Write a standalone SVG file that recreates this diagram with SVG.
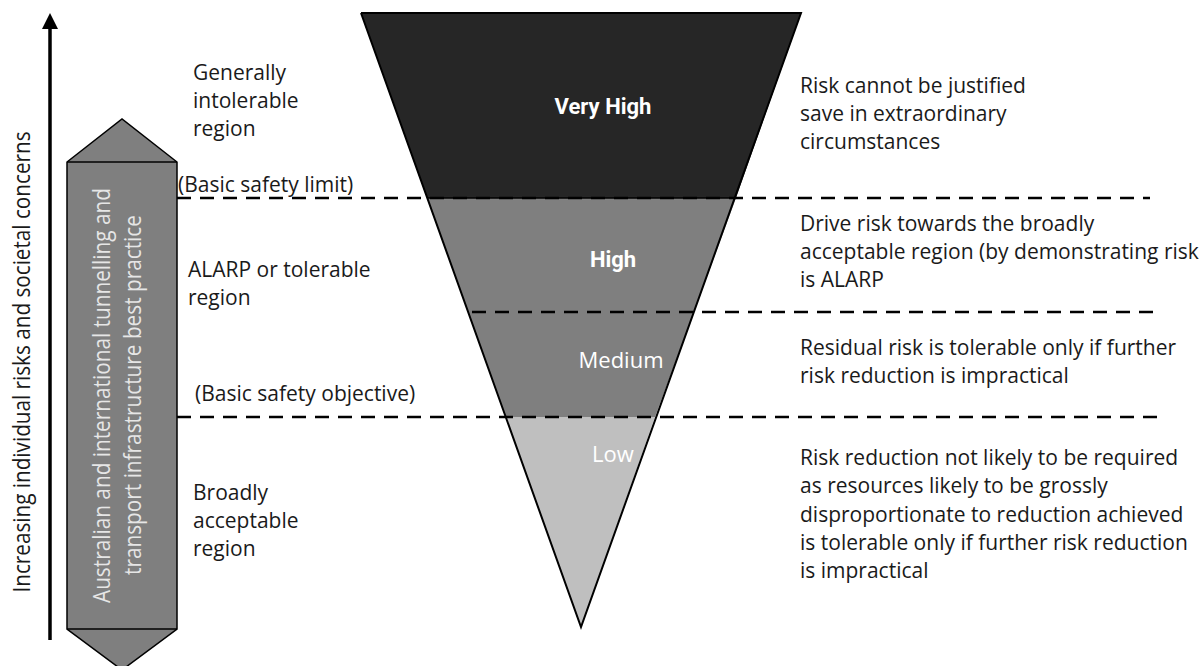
<svg xmlns="http://www.w3.org/2000/svg" width="1200" height="666" viewBox="0 0 1200 666">
<style>
.t{font-family:"Open Sans","Liberation Sans",sans-serif;font-size:21px;fill:#1a1a1a}
.w{font-family:Roboto,"Liberation Sans",sans-serif;font-size:22px;fill:#ffffff;text-anchor:middle;font-weight:bold}
.r{font-family:"Open Sans","Liberation Sans",sans-serif;font-size:22px;fill:#ffffff;text-anchor:middle}
.v{font-family:"Open Sans","Liberation Sans",sans-serif;font-size:24px;text-anchor:middle}
.dash{stroke:#000;stroke-width:2.5;stroke-dasharray:14 9;fill:none}
.edge{stroke:#000;stroke-width:2;fill:none}
</style>
<rect width="1200" height="666" fill="#fff"/>
<g id="axis">
<line x1="50" y1="640" x2="50" y2="27" stroke="#000" stroke-width="3.5"/>
<polygon points="50,13 42,29 58,29" fill="#000"/>
<text class="v" transform="translate(30,362) rotate(-90)" textLength="461" lengthAdjust="spacingAndGlyphs" fill="#1a1a1a">Increasing individual risks and societal concerns</text>
</g>
<g id="practice">
<polygon points="67,162 122,119 177,162 177,629 122,670 67,629" fill="#7f7f7f" stroke="#000" stroke-width="1.5"/>
<line x1="67" y1="162" x2="177" y2="162" stroke="#000" stroke-width="1.5"/>
<line x1="67" y1="629" x2="177" y2="629" stroke="#000" stroke-width="1.5"/>
<text class="v" transform="translate(110,395.5) rotate(-90)" textLength="415" lengthAdjust="spacingAndGlyphs" fill="#e6e6e6">Australian and international tunnelling and</text>
<text class="v" transform="translate(141,395) rotate(-90)" textLength="360" lengthAdjust="spacingAndGlyphs" fill="#e6e6e6">transport infrastructure best practice</text>
</g>
<g id="funnel">
<polygon id="veryhigh" points="361,13 801,13 736,198 427,198" fill="#262626"/>
<polygon id="high" points="427,198 736,198 694,312 468,312" fill="#7f7f7f"/>
<polygon id="medium" points="468,312 694,312 655,417 506,417" fill="#7f7f7f"/>
<polygon id="low" points="506,417 655,417 581,627" fill="#bfbfbf"/>
<polyline class="edge" points="361,13 801,13 581,627 361,13"/>
<line x1="427" y1="198" x2="736" y2="198" stroke="#000" stroke-width="1.5"/>
<text class="w" x="603" y="114">Very High</text>
<text class="w" x="613" y="267">High</text>
<text class="r" x="621" y="368">Medium</text>
<text class="r" x="613" y="462">Low</text>
</g>
<g id="connectors">
<line class="dash" x1="177" y1="198" x2="1150" y2="198"/>
<line class="dash" x1="472" y1="312" x2="1157" y2="312"/>
<line class="dash" x1="177" y1="417" x2="1160" y2="417"/>
</g>
<g id="left-labels">
<text class="t"><tspan x="193" y="80">Generally</tspan><tspan x="193" y="108">intolerable</tspan><tspan x="193" y="136">region</tspan></text>
<text class="t" x="178" y="192">(Basic safety limit)</text>
<text class="t"><tspan x="188" y="277">ALARP or tolerable</tspan><tspan x="188" y="305">region</tspan></text>
<text class="t" x="195" y="401">(Basic safety objective)</text>
<text class="t"><tspan x="193" y="500">Broadly</tspan><tspan x="193" y="528">acceptable</tspan><tspan x="193" y="556">region</tspan></text>
</g>
<g id="right-labels">
<text class="t"><tspan x="800" y="93">Risk cannot be justified</tspan><tspan x="800" y="121">save in extraordinary</tspan><tspan x="800" y="149">circumstances</tspan></text>
<text class="t"><tspan x="800" y="231">Drive risk towards the broadly</tspan><tspan x="800" y="259">acceptable region (by demonstrating risk</tspan><tspan x="800" y="287">is ALARP</tspan></text>
<text class="t"><tspan x="800" y="355">Residual risk is tolerable only if further</tspan><tspan x="800" y="383">risk reduction is impractical</tspan></text>
<text class="t"><tspan x="800" y="465">Risk reduction not likely to be required</tspan><tspan x="800" y="493">as resources likely to be grossly</tspan><tspan x="800" y="522">disproportionate to reduction achieved</tspan><tspan x="800" y="550">is tolerable only if further risk reduction</tspan><tspan x="800" y="578">is impractical</tspan></text>
</g>
</svg>
